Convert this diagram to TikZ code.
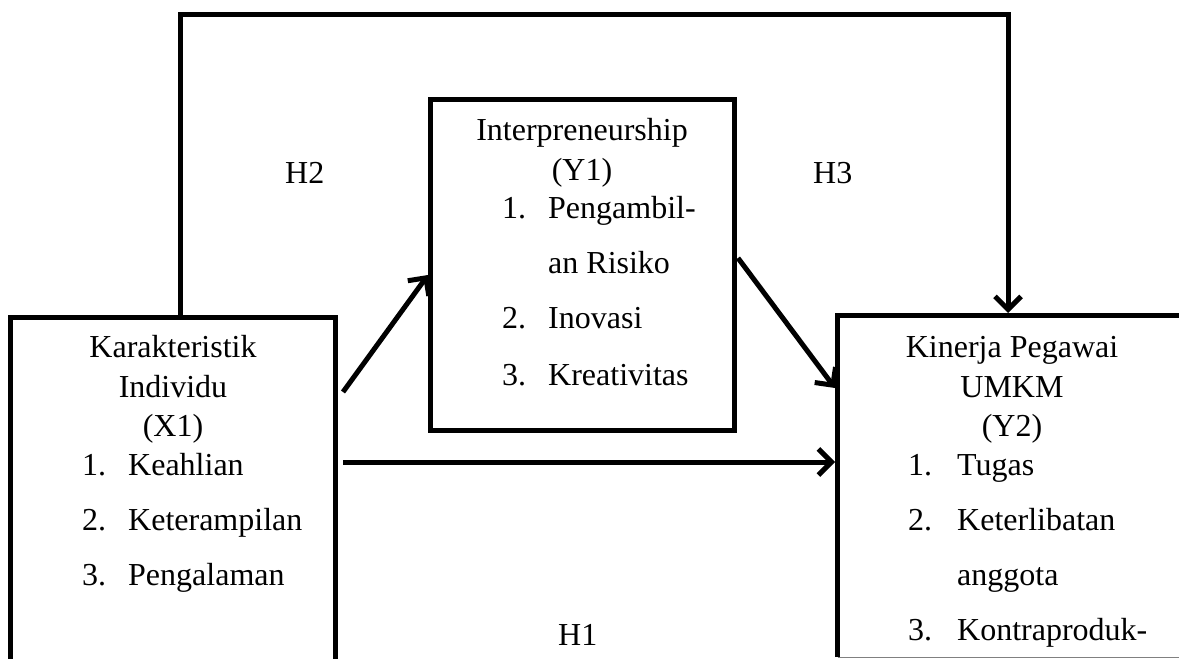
\documentclass[tikz,border=0pt]{standalone}
\usepackage{fontspec}
\setmainfont{Liberation Serif}
\usetikzlibrary{arrows.meta}
\begin{document}
\begin{tikzpicture}[x=1pt,y=-1pt,
  frame/.style={line width=5pt, line join=miter},
  link/.style={line width=5pt, -{Straight Barb[length=13pt,width=26pt]}},
  ctxt/.style={inner sep=0pt, anchor=base, font=\fontsize{32}{38}\selectfont},
  ltxt/.style={inner sep=0pt, anchor=base west, font=\fontsize{32}{38}\selectfont}]
\useasboundingbox (0,0) rectangle (1179,659);
% box corner coordinates
\coordinate (xbl) at (10.5,665);
\coordinate (xtl) at (10.5,317);
\coordinate (xtr) at (335.5,317);
\coordinate (xbr) at (335.5,665);
\coordinate (mtl) at (430.5,99.5);
\coordinate (mbr) at (734.5,430);
\coordinate (ybl) at (837.5,657);
\coordinate (ytl) at (837.5,315.5);
\coordinate (ytr) at (1190,315.5);
% boxes
\draw[frame] (xbl) -- (xtl) -- (xtr) -- (xbr);
\draw[frame] (mtl) rectangle (mbr);
\draw[frame] (ybl) -- (ytl) -- (ytr);
\draw[gray, line width=1pt] (837.5,657.5) -- (1190,657.5);
% connector points
\coordinate (xup) at (180,317);
\coordinate (ctl) at (180,14.5);
\coordinate (ctr) at (1008,14.5);
\coordinate (ydown) at (1008,313);
\coordinate (xout1) at (343,392);
\coordinate (yin1) at (428,275);
\coordinate (yout1) at (738,258);
\coordinate (yin2) at (835,388);
\coordinate (xout2) at (343,462);
\coordinate (yin3) at (835,462);
% connectors
\draw[link] (xup) -- (ctl) -- (ctr) -- (ydown);
\draw[link] (xout1) -- (yin1);
\draw[link] (yout1) -- (yin2);
\draw[link] (xout2) -- (yin3);
% labels
\node[ltxt] (h2) at (285,183) {H2};
\node[ltxt] (h3) at (813,183) {H3};
\node[ltxt] (h1) at (558,645) {H1};
% left box text
\node[ctxt] (x1a) at (173,357) {Karakteristik};
\node[ctxt] (x1b) at (173,397) {Individu};
\node[ctxt] (x1c) at (173,436) {(X1)};
\node[ltxt] (x1n1) at (82,475) {1.};
\node[ltxt] (x1i1) at (128,475) {Keahlian};
\node[ltxt] (x1n2) at (82,530) {2.};
\node[ltxt] (x1i2) at (128,530) {Keterampilan};
\node[ltxt] (x1n3) at (82,585) {3.};
\node[ltxt] (x1i3) at (128,585) {Pengalaman};
% middle box text
\node[ctxt] (y1a) at (582,140) {Interpreneurship};
\node[ctxt] (y1b) at (582,180) {(Y1)};
\node[ltxt] (y1n1) at (502,218) {1.};
\node[ltxt] (y1i1) at (548,218) {Pengambil-};
\node[ltxt] (y1i1b) at (548,273) {an Risiko};
\node[ltxt] (y1n2) at (502,328) {2.};
\node[ltxt] (y1i2) at (548,328) {Inovasi};
\node[ltxt] (y1n3) at (502,385) {3.};
\node[ltxt] (y1i3) at (548,385) {Kreativitas};
% right box text
\node[ctxt] (y2a) at (1012,357) {Kinerja Pegawai};
\node[ctxt] (y2b) at (1012,397) {UMKM};
\node[ctxt] (y2c) at (1012,436) {(Y2)};
\node[ltxt] (y2n1) at (908,475) {1.};
\node[ltxt] (y2i1) at (957,475) {Tugas};
\node[ltxt] (y2n2) at (908,530) {2.};
\node[ltxt] (y2i2) at (957,530) {Keterlibatan};
\node[ltxt] (y2i2b) at (957,585) {anggota};
\node[ltxt] (y2n3) at (908,640) {3.};
\node[ltxt] (y2i3) at (957,640) {Kontraproduk-};
\end{tikzpicture}
\end{document}
